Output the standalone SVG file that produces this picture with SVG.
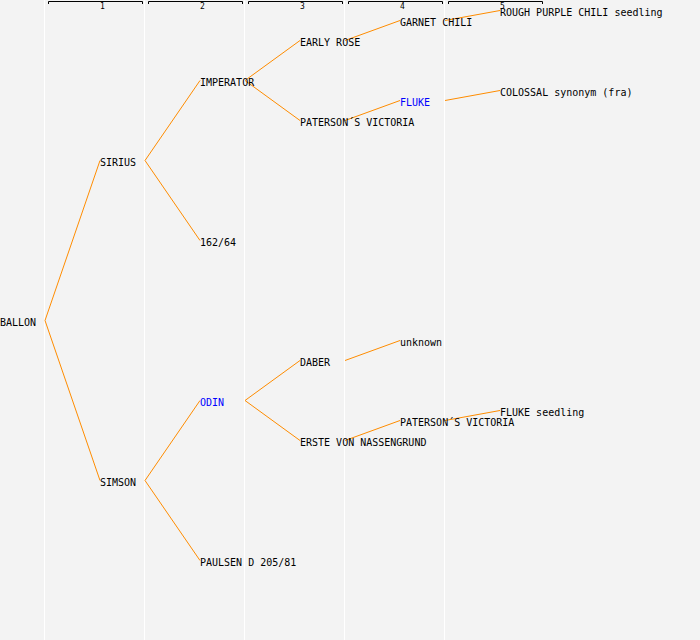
<svg xmlns="http://www.w3.org/2000/svg" width="700" height="640" viewBox="0 0 700 640">
<style>
.bg{fill:#f3f3f3}
.sep{stroke:#ffffff;stroke-width:1}
.br{fill:none;stroke:#000000;stroke-width:1}
.num{font-family:"DejaVu Sans Mono",monospace;font-size:8px;fill:#000}
.lbl{font-family:"DejaVu Sans Mono","Liberation Mono",monospace;font-size:10px;fill:#000}
.blue{fill:#0000ff}
.edge{fill:none;stroke:#ff8c00;stroke-width:1}
</style>
<rect class="bg" x="0" y="0" width="700" height="640"/>
<g id="grid">
<line class="sep" x1="44.5" y1="0" x2="44.5" y2="640"/>
<line class="sep" x1="144.5" y1="0" x2="144.5" y2="640"/>
<line class="sep" x1="244.5" y1="0" x2="244.5" y2="640"/>
<line class="sep" x1="344.5" y1="0" x2="344.5" y2="640"/>
<line class="sep" x1="444.5" y1="0" x2="444.5" y2="640"/>
</g>
<g id="header">
<path class="br" d="M48.5,4 V1.5 H142.5 V4"/>
<path class="br" d="M148.5,4 V1.5 H242.5 V4"/>
<path class="br" d="M248.5,4 V1.5 H342.5 V4"/>
<path class="br" d="M348.5,4 V1.5 H442.5 V4"/>
<path class="br" d="M448.5,4 V1.5 H542.5 V4"/>
<text class="num" x="100" y="9">1</text>
<text class="num" x="200" y="9">2</text>
<text class="num" x="300" y="9">3</text>
<text class="num" x="400" y="9">4</text>
<text class="num" x="500" y="9">5</text>
</g>
<g id="connectors">
<path class="edge" d="M45,320.5 L100,160.5"/>
<path class="edge" d="M45,320.5 L100,480.5"/>
<path class="edge" d="M145,160.5 L200,80.5"/>
<path class="edge" d="M145,160.5 L200,240.5"/>
<path class="edge" d="M245,80.5 L300,40.5"/>
<path class="edge" d="M245,80.5 L300,120.5"/>
<path class="edge" d="M345,40.5 L400,20.5"/>
<path class="edge" d="M445,20.5 L500,10.5"/>
<path class="edge" d="M345,120.5 L400,100.5"/>
<path class="edge" d="M445,100.5 L500,90.5"/>
<path class="edge" d="M145,480.5 L200,400.5"/>
<path class="edge" d="M145,480.5 L200,560.5"/>
<path class="edge" d="M245,400.5 L300,360.5"/>
<path class="edge" d="M245,400.5 L300,440.5"/>
<path class="edge" d="M345,360.5 L400,340.5"/>
<path class="edge" d="M345,440.5 L400,420.5"/>
<path class="edge" d="M445,420.5 L500,410.5"/>
</g>
<g id="n-ballon"><text class="lbl" x="0" y="326">BALLON</text></g>
<g id="n-sirius"><text class="lbl" x="100" y="166">SIRIUS</text></g>
<g id="n-simson"><text class="lbl" x="100" y="486">SIMSON</text></g>
<g id="n-imperator"><text class="lbl" x="200" y="86">IMPERATOR</text></g>
<g id="n-16264"><text class="lbl" x="200" y="246">162/64</text></g>
<g id="n-odin"><text class="lbl blue" x="200" y="406">ODIN</text></g>
<g id="n-paulsen"><text class="lbl" x="200" y="566">PAULSEN D 205/81</text></g>
<g id="n-earlyrose"><text class="lbl" x="300" y="46">EARLY ROSE</text></g>
<g id="n-paterson1"><text class="lbl" x="300" y="126">PATERSON´S VICTORIA</text></g>
<g id="n-daber"><text class="lbl" x="300" y="366">DABER</text></g>
<g id="n-erste"><text class="lbl" x="300" y="446">ERSTE VON NASSENGRUND</text></g>
<g id="n-garnet"><text class="lbl" x="400" y="26">GARNET CHILI</text></g>
<g id="n-fluke"><text class="lbl blue" x="400" y="106">FLUKE</text></g>
<g id="n-unknown"><text class="lbl" x="400" y="346">unknown</text></g>
<g id="n-paterson2"><text class="lbl" x="400" y="426">PATERSON´S VICTORIA</text></g>
<g id="n-rough"><text class="lbl" x="500" y="16">ROUGH PURPLE CHILI seedling</text></g>
<g id="n-colossal"><text class="lbl" x="500" y="96">COLOSSAL synonym (fra)</text></g>
<g id="n-flukeseedling"><text class="lbl" x="500" y="416">FLUKE seedling</text></g>
</svg>
